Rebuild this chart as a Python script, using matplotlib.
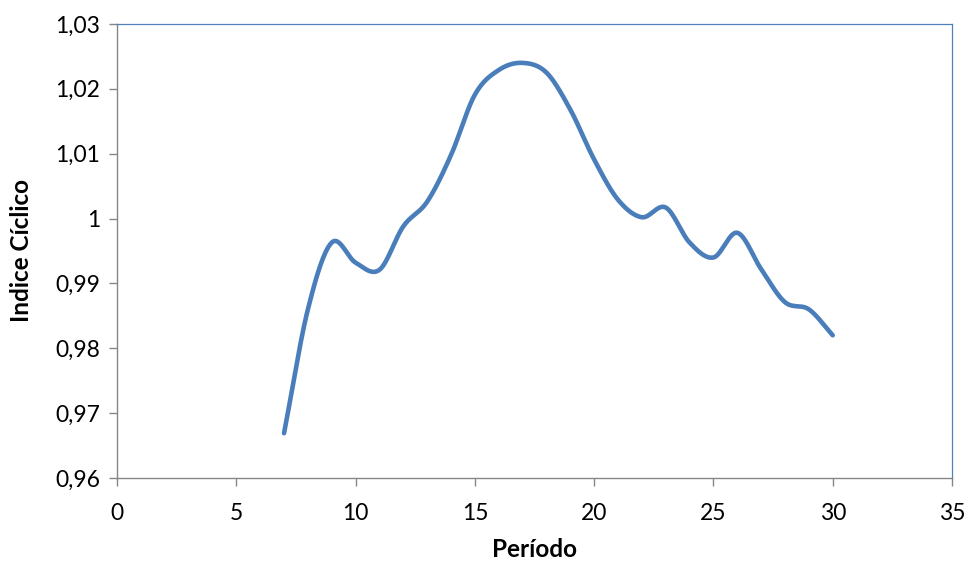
import numpy as np
import matplotlib
matplotlib.use("Agg")
import matplotlib.pyplot as plt
from matplotlib.ticker import FuncFormatter, MultipleLocator

plt.rcParams['font.family'] = ['Lato', 'DejaVu Sans']

# Cyclical index by period
periodo = [7, 8, 9, 10, 11, 12, 13, 14, 15, 16, 17, 18, 19, 20, 21, 22,
           23, 24, 25, 26, 27, 28, 29, 30]
indice_ciclico = [0.9669, 0.9860, 0.9963, 0.9932, 0.9921, 0.9988, 1.0026,
                  1.0098, 1.0191, 1.0229, 1.0240, 1.0225, 1.0168, 1.0091,
                  1.0029, 1.0002, 1.0017, 0.9963, 0.9940, 0.9978, 0.9922,
                  0.9871, 0.9860, 0.9820]


def catmull_rom(x, y, n=30):
    """Smooth curve through every point (spreadsheet-style smoothed line)."""
    x = np.asarray(x, float)
    y = np.asarray(y, float)
    px = np.concatenate([[2 * x[0] - x[1]], x, [2 * x[-1] - x[-2]]])
    py = np.concatenate([[2 * y[0] - y[1]], y, [2 * y[-1] - y[-2]]])
    xs, ys = [], []
    t = np.linspace(0, 1, n, endpoint=False)
    for i in range(1, len(px) - 2):
        for arr, out in ((px, xs), (py, ys)):
            p0, p1, p2, p3 = arr[i - 1], arr[i], arr[i + 1], arr[i + 2]
            out.extend(0.5 * ((2 * p1) + (-p0 + p2) * t
                              + (2 * p0 - 5 * p1 + 4 * p2 - p3) * t ** 2
                              + (-p0 + 3 * p1 - 3 * p2 + p3) * t ** 3))
    xs.append(x[-1])
    ys.append(y[-1])
    return np.array(xs), np.array(ys)


fig = plt.figure(figsize=(9.68, 5.64), dpi=100)
ax = fig.add_axes([0.1209, 0.1525, 0.8626, 0.8050])

sx, sy = catmull_rom(periodo, indice_ciclico)
ax.plot(sx, sy, color='#4a7ebb', linewidth=3.3, solid_capstyle='round',
        solid_joinstyle='round')

ax.set_xlim(0, 35)
ax.set_ylim(0.96, 1.03)
ax.xaxis.set_major_locator(MultipleLocator(5))
ax.yaxis.set_major_locator(MultipleLocator(0.01))


def fmt_y(v, pos):
    s = f"{v:.2f}".rstrip('0').rstrip('.')
    return s.replace('.', ',')


ax.yaxis.set_major_formatter(FuncFormatter(fmt_y))

for side in ('left', 'bottom'):
    ax.spines[side].set_color('#868686')
    ax.spines[side].set_linewidth(1.0)
for side in ('top', 'right'):
    ax.spines[side].set_color('#4f81bd')
    ax.spines[side].set_linewidth(0.9)

ax.tick_params(axis='both', direction='out', length=6, width=1.0,
               color='#868686', labelsize=16.5, labelcolor='black', pad=4)
ax.tick_params(axis='x', pad=12)
ax.tick_params(axis='y', pad=6)

ax.set_xlabel('Período', fontsize=17.5, fontweight='bold', labelpad=10)
ax.set_ylabel('Indice Cíclico', fontsize=17.5, fontweight='bold', labelpad=16)

fig.savefig('out.png', dpi=100)
